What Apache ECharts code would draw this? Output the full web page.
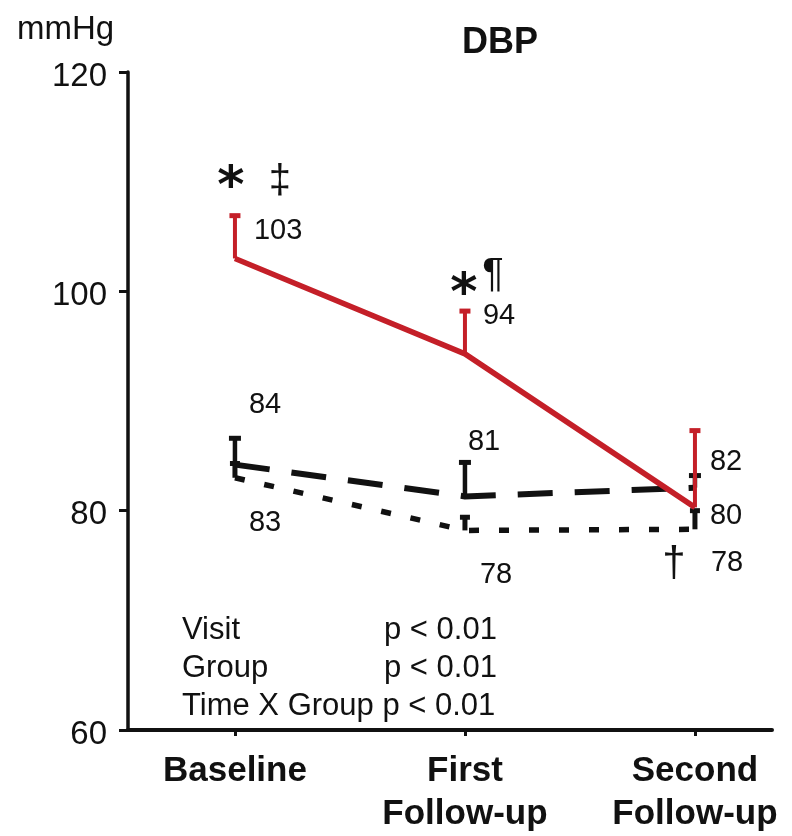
<!DOCTYPE html>
<html>
<head>
<meta charset="utf-8">
<script src="https://cdn.jsdelivr.net/npm/echarts@6/dist/echarts.min.js"></script>
<style>
  html, body { margin: 0; padding: 0; background: #fff; }
  #chart { width: 792px; height: 836px; }
</style>
</head>
<body>
<div id="chart"></div>
<script>
// visits along the x axis
const visits = ['Baseline', 'First\nFollow-up', 'Second\nFollow-up'];

// group means (mmHg) and top of the error bars
const redMean = [103, 94.3, 80.3];
const redUpper = [106.9, 98.2, 87.3];
const dashMean = [84.2, 81.3, 82.1];
const dashUpper = [86.6, 84.4, 83.2];
const dotMean = [83.0, 78.2, 78.3];
const dotUpper = [84.3, 79.4, 80.0];

// significance marks
const redStars = ['*', '*', ''];
const redSigns = ['\u2021', '\u00b6', ''];
const dotSigns = ['', '', '\u2020'];

// ANOVA table
const effects = ['Visit', 'Group', 'Time X Group'];
const pValues = ['p < 0.01', 'p < 0.01', 'p < 0.01'];

const RED = '#c41f28';
const INK = '#111';
const FONT = 'Liberation Sans';

const pairs = (arr) => arr.map((v, i) => [i, v]);

function errorBars(name, mean, upper, color, width, capW, capH) {
  return {
    name: name,
    type: 'custom',
    data: mean.map((v, i) => [i, v, upper[i]]),
    encode: { x: 0, y: [1, 2] },
    z: 4,
    renderItem: function (params, api) {
      const p0 = api.coord([api.value(0), api.value(1)]);
      const p1 = api.coord([api.value(0), api.value(2)]);
      return {
        type: 'group',
        children: [
          { type: 'line', shape: { x1: p0[0], y1: p0[1], x2: p1[0], y2: p1[1] },
            style: { stroke: color, lineWidth: width } },
          { type: 'rect', shape: { x: p1[0] - capW / 2, y: p1[1] - capH / 2, width: capW, height: capH },
            style: { fill: color } }
        ]
      };
    }
  };
}

// text attached to data points; offsets are in pixels from the point
function notes(name, values, texts, offsets, style) {
  return {
    name: name,
    type: 'scatter',
    symbolSize: 0,
    z: 6,
    silent: true,
    itemStyle: { opacity: 1 },
    data: values.map((v, i) => ({
      value: [i, v],
      label: {
        show: texts[i] !== '',
        formatter: texts[i],
        position: 'inside',
        offset: offsets[i],
        align: style.align || 'left',
        verticalAlign: 'middle',
        color: INK,
        opacity: 1,
        textBorderWidth: 0,
        fontFamily: style.fontFamily || FONT,
        fontWeight: style.fontWeight || 'normal',
        fontSize: style.fontSize
      }
    }))
  };
}

const rounded = (arr) => arr.map((v) => String(Math.round(v)));

const chart = echarts.init(document.getElementById('chart'));
chart.setOption({
  animation: false,
  backgroundColor: '#fff',
  title: {
    text: 'DBP',
    left: 457,
    top: 20,
    textStyle: { fontFamily: FONT, fontSize: 36, fontWeight: 'bold', color: INK }
  },
  grid: { left: 128, right: 20, top: 72, bottom: 104 },
  xAxis: {
    type: 'value',
    min: -0.465,
    max: 2.335,
    splitLine: { show: false },
    axisLine: { show: true, onZero: false, lineStyle: { color: INK, width: 4 } },
    axisTick: { show: true, customValues: [0, 1, 2], length: 6, lineStyle: { color: INK, width: 3 } },
    axisLabel: {
      customValues: [0, 1, 2],
      formatter: (v) => visits[Math.round(v)],
      margin: 20,
      color: INK,
      fontFamily: FONT,
      fontSize: 35,
      fontWeight: 'bold',
      lineHeight: 43
    }
  },
  yAxis: {
    type: 'value',
    min: 60,
    max: 120,
    interval: 20,
    splitLine: { show: false },
    axisLine: { show: true, onZero: false, lineStyle: { color: INK, width: 3.5 } },
    axisTick: { show: true, length: 9, lineStyle: { color: INK, width: 3 } },
    axisLabel: {
      margin: 21,
      formatter: '{v|{value}}',
      rich: { v: { padding: [9, 0, 0, 0], color: INK, fontFamily: FONT, fontSize: 33 } }
    }
  },
  graphic: [
    { type: 'text', left: 17, top: 13,
      style: { text: 'mmHg', fontFamily: FONT, fontSize: 33, fill: INK } }
  ].concat(effects.map((e, i) => ({
    type: 'text', left: 182, top: 615 + i * 38,
    style: { text: i === 2 ? e + ' ' + pValues[i] : e, fontFamily: FONT, fontSize: 31, fill: INK }
  }))).concat(pValues.slice(0, 2).map((p, i) => ({
    type: 'text', left: 384, top: 615 + i * 38,
    style: { text: p, fontFamily: FONT, fontSize: 31, fill: INK }
  }))),
  series: [
    {
      name: 'dotted', type: 'line', symbol: 'none', z: 3,
      data: pairs(dotMean),
      lineStyle: { color: INK, width: 5.5, type: [10, 20], cap: 'butt' }
    },
    {
      name: 'dashed', type: 'line', symbol: 'none', z: 3,
      data: pairs(dashMean),
      lineStyle: { color: INK, width: 6, type: [35, 22], cap: 'butt' }
    },
    errorBars('dotted err', dotMean, dotUpper, INK, 5, 10, 5),
    errorBars('dashed err', dashMean, dashUpper, INK, 4.5, 12, 5),
    {
      name: 'red', type: 'line', symbol: 'none', z: 5,
      data: pairs(redMean),
      lineStyle: { color: RED, width: 5.5 }
    },
    errorBars('red err', redMean, redUpper, RED, 4, 11, 5),
    notes('red values', redMean, rounded(redMean), [[19, -27], [18, -38], [15, 9]], { fontSize: 29 }),
    notes('dashed values', dashMean, rounded(dashMean), [[14, -60], [3, -54], [15, -26]], { fontSize: 29 }),
    notes('dotted values', dotMean, rounded(dotMean), [[14, 45], [15, 45], [16, 34]], { fontSize: 29 }),
    notes('red stars', redMean, redStars, [[-4, -70], [-1, -58], [0, 0]],
      { fontSize: 52, align: 'center', fontFamily: 'DejaVu Sans', fontWeight: 'bold' }),
    notes('red signs', redMean, redSigns, [[45, -76], [28, -79], [0, 0]], { fontSize: 40, align: 'center' }),
    notes('dotted signs', dotMean, dotSigns, [[0, 0], [0, 0], [-21, 35]], { fontSize: 42, align: 'center' })
  ]
});
</script>
</body>
</html>
